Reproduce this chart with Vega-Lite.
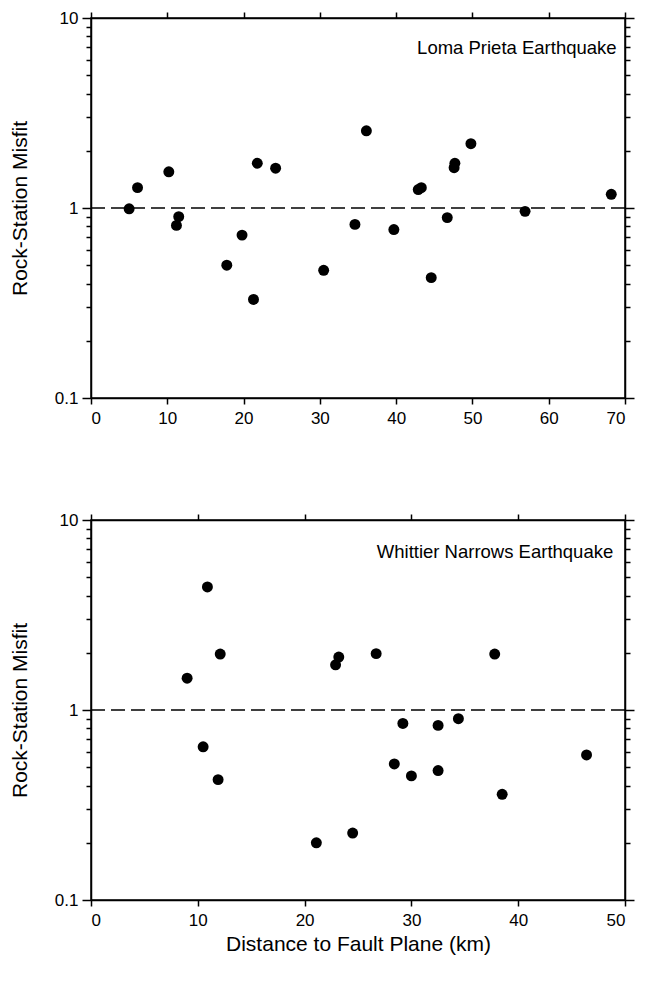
{
  "$schema": "https://vega.github.io/schema/vega-lite/v6.json",
  "background": "white",
  "padding": {"left": 8, "top": 8, "right": 8, "bottom": 10},
  "spacing": 83,
  "config": {
    "font": "Liberation Sans",
    "view": {"stroke": "black", "strokeWidth": 1.5},
    "axis": {
      "grid": false,
      "domainColor": "black",
      "domainWidth": 1.5,
      "tickColor": "black",
      "tickWidth": 1.5,
      "labelColor": "black",
      "labelFont": "Liberation Sans",
      "labelFontSize": 17,
      "titleColor": "black",
      "titleFont": "Liberation Sans",
      "titleFontSize": 21,
      "titleFontWeight": "normal"
    }
  },
  "datasets": {
    "loma": [
      {"distance": 5.0, "misfit": 0.99},
      {"distance": 6.1, "misfit": 1.28},
      {"distance": 10.2, "misfit": 1.55},
      {"distance": 11.2, "misfit": 0.81},
      {"distance": 11.5, "misfit": 0.90},
      {"distance": 17.8, "misfit": 0.50},
      {"distance": 19.8, "misfit": 0.72},
      {"distance": 21.3, "misfit": 0.33},
      {"distance": 21.8, "misfit": 1.72},
      {"distance": 24.2, "misfit": 1.62},
      {"distance": 30.5, "misfit": 0.47},
      {"distance": 34.6, "misfit": 0.82},
      {"distance": 36.1, "misfit": 2.55},
      {"distance": 39.7, "misfit": 0.77},
      {"distance": 42.9, "misfit": 1.25},
      {"distance": 43.3, "misfit": 1.28},
      {"distance": 44.6, "misfit": 0.43},
      {"distance": 46.7, "misfit": 0.89},
      {"distance": 47.6, "misfit": 1.63},
      {"distance": 47.7, "misfit": 1.72},
      {"distance": 49.8, "misfit": 2.18},
      {"distance": 56.9, "misfit": 0.96},
      {"distance": 68.2, "misfit": 1.18}
    ],
    "whittier": [
      {"distance": 9.0, "misfit": 1.47},
      {"distance": 10.5, "misfit": 0.64},
      {"distance": 10.9, "misfit": 4.44},
      {"distance": 11.9, "misfit": 0.43},
      {"distance": 12.1, "misfit": 1.97},
      {"distance": 21.1, "misfit": 0.20},
      {"distance": 22.9, "misfit": 1.73},
      {"distance": 23.2, "misfit": 1.90},
      {"distance": 24.5, "misfit": 0.225},
      {"distance": 26.7, "misfit": 1.98},
      {"distance": 28.4, "misfit": 0.52},
      {"distance": 29.2, "misfit": 0.85},
      {"distance": 30.0, "misfit": 0.45},
      {"distance": 32.5, "misfit": 0.83},
      {"distance": 32.5, "misfit": 0.48},
      {"distance": 34.4, "misfit": 0.90},
      {"distance": 37.8, "misfit": 1.97},
      {"distance": 38.5, "misfit": 0.36},
      {"distance": 46.4, "misfit": 0.58}
    ]
  },
  "vconcat": [
    {
      "width": 534,
      "height": 380,
      "data": {"name": "loma"},
      "resolve": {"axis": {"x": "independent", "y": "independent"}},
      "layer": [
        {
          "data": {"values": [{}]},
          "mark": {"type": "rule", "color": "black", "strokeWidth": 1.6, "strokeDash": [14, 6]},
          "encoding": {
            "y": {"datum": 1, "type": "quantitative", "scale": {"type": "log", "domain": [0.1, 10], "nice": false}, "axis": null}
          }
        },
        {
          "mark": {"type": "circle", "size": 120, "color": "black", "opacity": 1},
          "encoding": {
            "x": {"field": "distance", "type": "quantitative", "scale": {"domain": [0, 70], "nice": false, "zero": false},
                  "axis": {"orient": "bottom", "title": null, "values": [0, 10, 20, 30, 40, 50, 60, 70], "tickSize": 6, "labelPadding": 6}},
            "y": {"field": "misfit", "type": "quantitative", "scale": {"type": "log", "domain": [0.1, 10], "nice": false},
                  "axis": {"orient": "left", "title": "Rock-Station Misfit", "titlePadding": 24,
                           "values": [0.1, 0.2, 0.3, 0.4, 0.5, 0.6, 0.7, 0.8, 0.9, 1, 2, 3, 4, 5, 6, 7, 8, 9, 10],
                           "labelExpr": "indexof([0.1, 1, 10], datum.value) >= 0 ? format(datum.value, '~g') : ''",
                           "tickSize": {"condition": {"test": "indexof([0.1, 1, 10], datum.value) >= 0", "value": 9}, "value": 5},
                           "labelPadding": 4}}
          }
        },
        {
          "mark": {"type": "circle", "opacity": 0},
          "encoding": {
            "x": {"field": "distance", "type": "quantitative", "scale": {"domain": [0, 70], "nice": false, "zero": false},
                  "axis": {"orient": "top", "title": null, "labels": false, "values": [0, 10, 20, 30, 40, 50, 60, 70], "tickSize": 6}},
            "y": {"field": "misfit", "type": "quantitative", "scale": {"type": "log", "domain": [0.1, 10], "nice": false},
                  "axis": {"orient": "right", "title": null, "labels": false,
                           "values": [0.1, 0.2, 0.3, 0.4, 0.5, 0.6, 0.7, 0.8, 0.9, 1, 2, 3, 4, 5, 6, 7, 8, 9, 10],
                           "tickSize": {"condition": {"test": "indexof([0.1, 1, 10], datum.value) >= 0", "value": 9}, "value": 5}}}
          }
        },
        {
          "data": {"values": [{}]},
          "mark": {"type": "text", "align": "right", "baseline": "middle", "fontSize": 18.5, "font": "Liberation Sans", "color": "black"},
          "encoding": {
            "x": {"datum": 68.9, "type": "quantitative", "axis": null},
            "y": {"datum": 6.95, "type": "quantitative", "axis": null},
            "text": {"value": "Loma Prieta Earthquake"}
          }
        }
      ]
    },
    {
      "width": 534,
      "height": 380,
      "data": {"name": "whittier"},
      "resolve": {"axis": {"x": "independent", "y": "independent"}},
      "layer": [
        {
          "data": {"values": [{}]},
          "mark": {"type": "rule", "color": "black", "strokeWidth": 1.6, "strokeDash": [14, 6]},
          "encoding": {
            "y": {"datum": 1, "type": "quantitative", "scale": {"type": "log", "domain": [0.1, 10], "nice": false}, "axis": null}
          }
        },
        {
          "mark": {"type": "circle", "size": 120, "color": "black", "opacity": 1},
          "encoding": {
            "x": {"field": "distance", "type": "quantitative", "scale": {"domain": [0, 50], "nice": false, "zero": false},
                  "axis": {"orient": "bottom", "title": "Distance to Fault Plane (km)", "titlePadding": 5, "values": [0, 10, 20, 30, 40, 50], "tickSize": 6, "labelPadding": 6}},
            "y": {"field": "misfit", "type": "quantitative", "scale": {"type": "log", "domain": [0.1, 10], "nice": false},
                  "axis": {"orient": "left", "title": "Rock-Station Misfit", "titlePadding": 24,
                           "values": [0.1, 0.2, 0.3, 0.4, 0.5, 0.6, 0.7, 0.8, 0.9, 1, 2, 3, 4, 5, 6, 7, 8, 9, 10],
                           "labelExpr": "indexof([0.1, 1, 10], datum.value) >= 0 ? format(datum.value, '~g') : ''",
                           "tickSize": {"condition": {"test": "indexof([0.1, 1, 10], datum.value) >= 0", "value": 9}, "value": 5},
                           "labelPadding": 4}}
          }
        },
        {
          "mark": {"type": "circle", "opacity": 0},
          "encoding": {
            "x": {"field": "distance", "type": "quantitative", "scale": {"domain": [0, 50], "nice": false, "zero": false},
                  "axis": {"orient": "top", "title": null, "labels": false, "values": [0, 10, 20, 30, 40, 50], "tickSize": 6}},
            "y": {"field": "misfit", "type": "quantitative", "scale": {"type": "log", "domain": [0.1, 10], "nice": false},
                  "axis": {"orient": "right", "title": null, "labels": false,
                           "values": [0.1, 0.2, 0.3, 0.4, 0.5, 0.6, 0.7, 0.8, 0.9, 1, 2, 3, 4, 5, 6, 7, 8, 9, 10],
                           "tickSize": {"condition": {"test": "indexof([0.1, 1, 10], datum.value) >= 0", "value": 9}, "value": 5}}}
          }
        },
        {
          "data": {"values": [{}]},
          "mark": {"type": "text", "align": "right", "baseline": "middle", "fontSize": 18.5, "font": "Liberation Sans", "color": "black"},
          "encoding": {
            "x": {"datum": 48.9, "type": "quantitative", "axis": null},
            "y": {"datum": 6.8, "type": "quantitative", "axis": null},
            "text": {"value": "Whittier Narrows Earthquake"}
          }
        }
      ]
    }
  ]
}
